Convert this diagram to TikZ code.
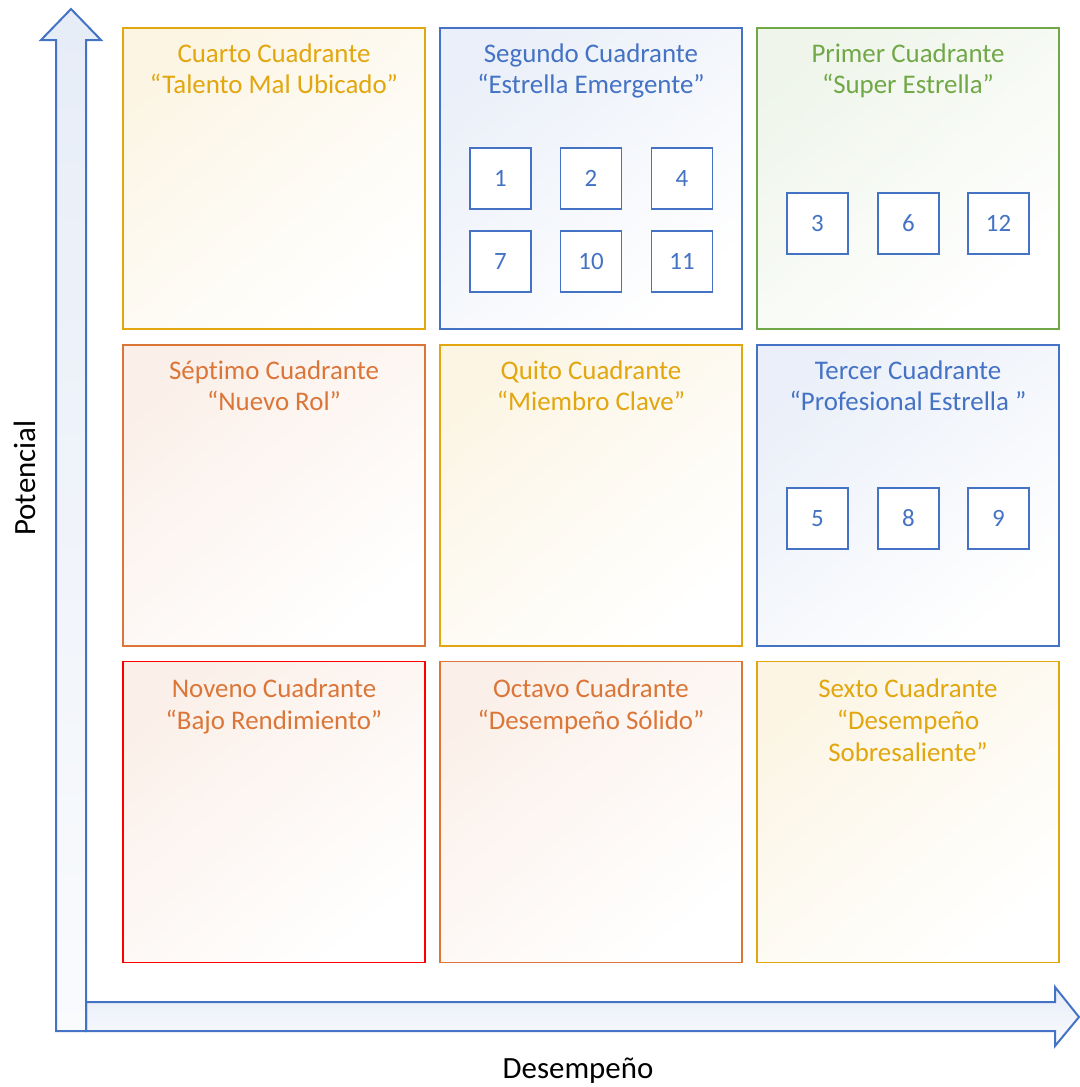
\documentclass[tikz,border=0pt]{standalone}
\usepackage{fontspec}
\setmainfont{Carlito}[Ligatures=NoCommon]
\usepackage{tikz}

\definecolor{azul}{RGB}{68,114,196}
\definecolor{oro}{RGB}{226,166,14}
\definecolor{naranja}{RGB}{219,118,56}
\definecolor{verde}{RGB}{112,168,71}
\definecolor{rojo}{RGB}{255,0,0}

\begin{document}
\begin{tikzpicture}[x=1bp,y=-1bp]
\tikzstyle{cuad}=[draw=#1,line width=1.6bp,minimum width=302bp,minimum height=301bp,
  top color=#1!11,middle color=white,bottom color=white,shading angle=40];
\tikzstyle{titulo}=[anchor=north,align=center,text=#1,inner sep=0pt,
  font=\fontsize{27}{32}\selectfont];
\tikzstyle{num}=[draw=azul,line width=1.6bp,fill=white,minimum size=61bp,
  text=azul,font=\fontsize{25}{30}\selectfont];
\tikzstyle{eje}=[draw=azul,line width=2bp,top color=azul!13,bottom color=azul!3];
\useasboundingbox (0,0) rectangle (1080,1087);

% axes
\draw[eje] (86,1002) -- (1055,1002) -- (1055,987) -- (1079,1017) -- (1055,1046)
  -- (1055,1031) -- (86,1031) -- cycle;
\draw[eje] (56,1031) -- (56,40) -- (41,40) -- (71,9) -- (101,40) -- (86,40)
  -- (86,1031) -- cycle;
\node[font=\fontsize{31}{36}\selectfont] (desempeno) at (578,1071) {Desempeño};
\node[font=\fontsize{31}{36}\selectfont,rotate=90] (potencial) at (25,478) {Potencial};

% first row
\node[cuad=oro] (c4) at (274,178.5) {};
\node[titulo=oro] (t4) at ([yshift=-16bp]c4.north) {Cuarto Cuadrante\\“Talento Mal Ubicado”};
\node[cuad=azul] (c2) at (591,178.5) {};
\node[titulo=azul] (t2) at ([yshift=-16bp]c2.north) {Segundo Cuadrante\\“Estrella Emergente”};
\node[cuad=verde] (c1) at (908,178.5) {};
\node[titulo=verde] (t1) at ([yshift=-16bp]c1.north) {Primer Cuadrante\\“Super Estrella”};

% second row
\node[cuad=naranja] (c7) at (274,495.5) {};
\node[titulo=naranja] (t7) at ([yshift=-16bp]c7.north) {Séptimo Cuadrante\\“Nuevo Rol”};
\node[cuad=oro] (c5) at (591,495.5) {};
\node[titulo=oro] (t5) at ([yshift=-16bp]c5.north) {Quito Cuadrante\\“Miembro Clave”};
\node[cuad=azul] (c3) at (908,495.5) {};
\node[titulo=azul] (t3) at ([yshift=-16bp]c3.north) {Tercer Cuadrante\\“Profesional Estrella\ ”};

% third row
\node[cuad=naranja,draw=rojo] (c9) at (274,812) {};
\node[titulo=naranja] (t9) at ([yshift=-18bp]c9.north) {Noveno Cuadrante\\“Bajo Rendimiento”};
\node[cuad=naranja] (c8) at (591,812) {};
\node[titulo=naranja] (t8) at ([yshift=-18bp]c8.north) {Octavo Cuadrante\\“Desempeño Sólido”};
\node[cuad=oro] (c6) at (908,812) {};
\node[titulo=oro] (t6) at ([yshift=-18bp]c6.north) {Sexto Cuadrante\\“Desempeño\\Sobresaliente”};

% people
\node[num] (n1) at (500.5,178.5) {1};
\node[num] (n2) at (591,178.5) {2};
\node[num] (n4) at (682,178.5) {4};
\node[num] (n7) at (500.5,261.5) {7};
\node[num] (n10) at (591,261.5) {10};
\node[num] (n11) at (682,261.5) {11};
\node[num] (n3) at (817.5,223.5) {3};
\node[num] (n6) at (908.5,223.5) {6};
\node[num] (n12) at (998.5,223.5) {12};
\node[num] (n5) at (817.5,518.5) {5};
\node[num] (n8) at (908.5,518.5) {8};
\node[num] (n9) at (998.5,518.5) {9};
\end{tikzpicture}
\end{document}
